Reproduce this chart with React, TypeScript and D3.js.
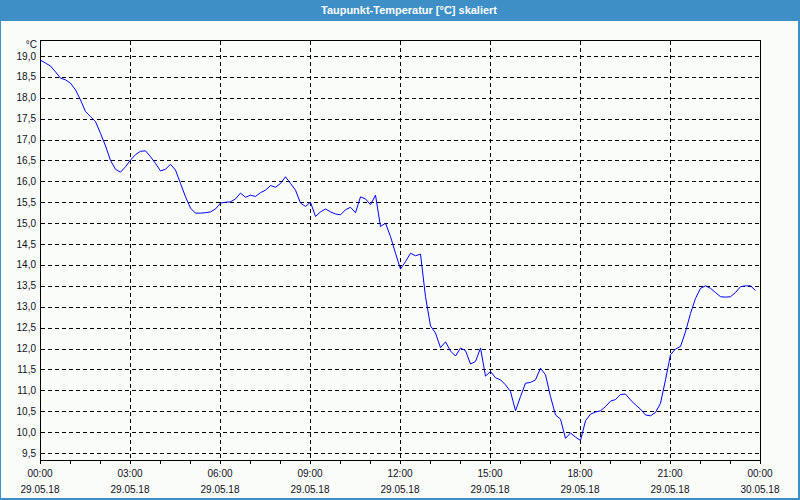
import * as d3 from "d3";

// values every 10 minutes, 29.05.18 00:00 .. 23:50
const dewPoint = [
  18.9, 18.83, 18.76, 18.62, 18.47, 18.43, 18.35, 18.19, 17.95, 17.67,
  17.55, 17.43, 17.15, 16.85, 16.5, 16.29, 16.22, 16.35, 16.51, 16.64,
  16.72, 16.73, 16.59, 16.43, 16.25, 16.29, 16.41, 16.27, 15.95, 15.63,
  15.36, 15.24, 15.24, 15.25, 15.27, 15.34, 15.48, 15.5, 15.51, 15.58,
  15.72, 15.62, 15.67, 15.64, 15.73, 15.79, 15.9, 15.86, 15.95, 16.11,
  15.95, 15.79, 15.48, 15.4, 15.5, 15.16, 15.27, 15.34, 15.27, 15.22,
  15.2, 15.32, 15.38, 15.25, 15.63, 15.58, 15.44, 15.67, 14.92, 15.0,
  14.68, 14.28, 13.9, 14.08, 14.28, 14.22, 14.26, 13.24, 12.54, 12.37,
  12.02, 12.16, 11.94, 11.82, 12.01, 11.95, 11.63, 11.69, 12.01, 11.34,
  11.45, 11.3, 11.25, 11.13, 10.97, 10.51, 10.85, 11.17, 11.19, 11.25,
  11.53, 11.37, 10.85, 10.41, 10.31, 9.85, 9.98, 9.88, 9.8, 10.27,
  10.43, 10.48, 10.51, 10.61, 10.74, 10.78, 10.9, 10.91, 10.77, 10.65,
  10.55, 10.41, 10.39, 10.47, 10.69, 11.25, 11.85, 11.99, 12.05, 12.4,
  12.84, 13.2, 13.44, 13.5, 13.44, 13.34, 13.24, 13.23, 13.24, 13.34,
  13.48, 13.5, 13.5, 13.39,
];
const stepMinutes = 10;

const timeLabels = ["00:00", "03:00", "06:00", "09:00", "12:00", "15:00", "18:00", "21:00", "00:00"];
const dateLabels = ["29.05.18", "29.05.18", "29.05.18", "29.05.18", "29.05.18", "29.05.18", "29.05.18", "29.05.18", "30.05.18"];
const yTicks = [9.5, 10, 10.5, 11, 11.5, 12, 12.5, 13, 13.5, 14, 14.5, 15, 15.5, 16, 16.5, 17, 17.5, 18, 18.5, 19];

const title = "Taupunkt-Temperatur [°C] skaliert";
const unit = "°C";

export default function App() {
  const width = 800;
  const height = 500;
  const left = 40;
  const right = 760;
  const top = 40;
  const bottom = 460;
  const font = "'Liberation Sans', Arial, sans-serif";
  const textColor = "#101018";

  const xScale = d3.scaleLinear().domain([0, 1440]).range([left, right]);
  const yScale = d3.scaleLinear().domain([9.5, 19]).range([453, 56]);

  const de = d3.formatLocale({ decimal: ",", thousands: ".", grouping: [3], currency: ["", " €"] });
  const fmt = de.format(".1f");

  const crisp = (v: number) => Math.round(v) + 0.5;

  const line = d3
    .line<number>()
    .x((d, i) => xScale(i * stepMinutes) + 0.5)
    .y((d) => yScale(d));

  const majorX = timeLabels.map((_, i) => i * 180);
  const minorX = d3.range(0, 1441, 60);

  return (
    <svg
      width={width}
      height={height}
      style={{ position: "absolute", left: 0, top: 0, display: "block" }}
    >
      <rect x={0} y={0} width={width} height={height} fill="#fafcfa" />
      {/* window border + title bar */}
      <rect x={0.5} y={0.5} width={width - 1.5} height={height - 1.5} fill="none" stroke="#3d8fc6" strokeWidth={1} />
      <rect x={798} y={0} width={2} height={height} fill="#3d8fc6" />
      <rect x={0} y={498} width={width} height={2} fill="#3d8fc6" />
      <rect x={0} y={0} width={width} height={21} fill="#3d8fc6" />
      <text
        x={409}
        y={14}
        textAnchor="middle"
        fill="#ffffff"
        fontFamily={font}
        fontSize={11}
        fontWeight="bold"
        textLength={176}
        lengthAdjust="spacingAndGlyphs"
      >
        {title}
      </text>

      {/* horizontal grid */}
      {yTicks.map((t) => (
        <line
          key={"h" + t}
          x1={left + 1}
          x2={right}
          y1={crisp(yScale(t))}
          y2={crisp(yScale(t))}
          stroke="#000"
          strokeWidth={1}
          strokeDasharray="4,3"
          shapeRendering="crispEdges"
        />
      ))}
      {/* vertical grid */}
      {majorX.slice(1, -1).map((m) => (
        <line
          key={"v" + m}
          x1={crisp(xScale(m))}
          x2={crisp(xScale(m))}
          y1={top + 1}
          y2={bottom}
          stroke="#000"
          strokeWidth={1}
          strokeDasharray="4,3"
          shapeRendering="crispEdges"
        />
      ))}

      {/* frame */}
      <rect
        x={left + 0.5}
        y={top + 0.5}
        width={right - left}
        height={bottom - top}
        fill="none"
        stroke="#000"
        strokeWidth={1}
        shapeRendering="crispEdges"
      />

      {/* x ticks */}
      {minorX.map((m) => (
        <line
          key={"t" + m}
          x1={crisp(xScale(m))}
          x2={crisp(xScale(m))}
          y1={bottom}
          y2={bottom + 4}
          stroke="#000"
          shapeRendering="crispEdges"
        />
      ))}

      {/* data */}
      <path d={line(dewPoint) || ""} fill="none" stroke="#0000ff" strokeWidth={1} />

      {/* y labels */}
      <text x={37} y={48} textAnchor="end" fill={textColor} fontFamily={font} fontSize={10}>
        {unit}
      </text>
      {yTicks.map((t) => (
        <text
          key={"yl" + t}
          x={36}
          y={yScale(t) + 3.5}
          textAnchor="end"
          fill={textColor}
          fontFamily={font}
          fontSize={10}
        >
          {fmt(t)}
        </text>
      ))}

      {/* x labels */}
      {majorX.map((m, i) => (
        <g key={"xl" + i}>
          <text x={xScale(m)} y={477} textAnchor="middle" fill={textColor} fontFamily={font} fontSize={10}>
            {timeLabels[i]}
          </text>
          <text x={xScale(m)} y={493} textAnchor="middle" fill={textColor} fontFamily={font} fontSize={10}>
            {dateLabels[i]}
          </text>
        </g>
      ))}
    </svg>
  );
}
